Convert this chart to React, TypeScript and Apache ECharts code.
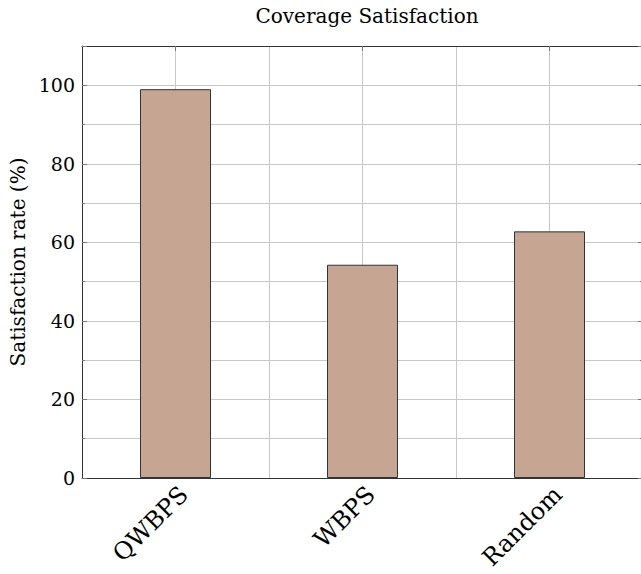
import React, { useEffect, useRef } from "react";
import * as echarts from "echarts";

const categories = ["QWBPS", "WBPS", "Random"];
const satisfaction = [99.0, 54.3, 62.8];
const titleText = "Coverage Satisfaction";
const yAxisName = "Satisfaction rate (%)";

const FONT = "DejaVu Serif";
const GRID_COLOR = "#c8c8c8";
const AXIS_COLOR = "#333333";

export default function App() {
  const ref = useRef<HTMLDivElement>(null);
  useEffect(() => {
    document.body.style.margin = "0";
    if (!ref.current) return;
    const chart = echarts.init(ref.current, undefined, { renderer: "svg" });
    const yBase = {
      type: "value" as const,
      min: 0,
      max: 110,
      interval: 20,
      axisLine: { show: true, onZero: false, lineStyle: { color: AXIS_COLOR, width: 1 } },
      axisTick: { show: true, inside: true, length: 5, lineStyle: { color: "#777" } },
      minorTick: { show: true, splitNumber: 2, length: 3, lineStyle: { color: "#777" } },
      splitLine: { show: true, lineStyle: { color: GRID_COLOR, width: 1 } },
      minorSplitLine: { show: true, lineStyle: { color: GRID_COLOR, width: 1 } },
    };
    chart.setOption({
      animation: false,
      textStyle: { fontFamily: FONT },
      title: {
        text: titleText,
        left: 362,
        top: 1,
        textAlign: "center",
        textStyle: { fontFamily: FONT, fontSize: 20, fontWeight: "normal", color: "#000" },
      },
      grid: {
        left: 82,
        top: 46,
        width: 561,
        height: 432,
        containLabel: false,
        outerBoundsMode: "none",
      },
      xAxis: [
        {
          type: "category",
          data: categories,
          position: "bottom",
          boundaryGap: true,
          axisLine: { show: true, onZero: false, lineStyle: { color: AXIS_COLOR, width: 1 } },
          axisTick: { show: true, inside: true, alignWithLabel: true, length: 5, lineStyle: { color: "#777" } },
          splitLine: { show: false },
          axisLabel: {
            rotate: 45,
            margin: 4,
            verticalAlign: "top",
            fontFamily: FONT,
            fontSize: 24,
            color: "#000",
          },
        },
        {
          type: "category",
          data: categories,
          position: "top",
          boundaryGap: true,
          axisLine: { show: true, onZero: false, lineStyle: { color: AXIS_COLOR, width: 1 } },
          axisTick: { show: true, inside: true, alignWithLabel: true, length: 5, lineStyle: { color: "#777" } },
          axisLabel: { show: false },
          splitLine: { show: false },
        },
        {
          type: "value",
          min: -0.5,
          max: 2.5,
          interval: 0.5,
          position: "bottom",
          axisLine: { show: false, onZero: false },
          axisTick: { show: false },
          axisLabel: { show: false },
          splitLine: { show: true, lineStyle: { color: GRID_COLOR, width: 1 } },
        },
      ],
      yAxis: [
        {
          ...yBase,
          position: "left",
          name: yAxisName,
          nameLocation: "middle",
          nameGap: 52,
          nameTextStyle: { fontFamily: FONT, fontSize: 20, color: "#000" },
          axisLabel: {
            fontFamily: FONT,
            fontSize: 19,
            color: "#000",
            margin: 7,
            showMaxLabel: false,
          },
        },
        {
          ...yBase,
          position: "right",
          axisLabel: { show: false },
          splitLine: { show: false },
          minorSplitLine: { show: false },
        },
      ],
      series: [
        {
          type: "bar",
          xAxisIndex: 0,
          yAxisIndex: 0,
          data: satisfaction,
          barWidth: 71,
          itemStyle: { color: "#c6a692", borderColor: "#333", borderWidth: 1 },
        },
      ],
    });
    return () => chart.dispose();
  }, []);
  return <div ref={ref} style={{ width: 641, height: 574 }} />;
}
